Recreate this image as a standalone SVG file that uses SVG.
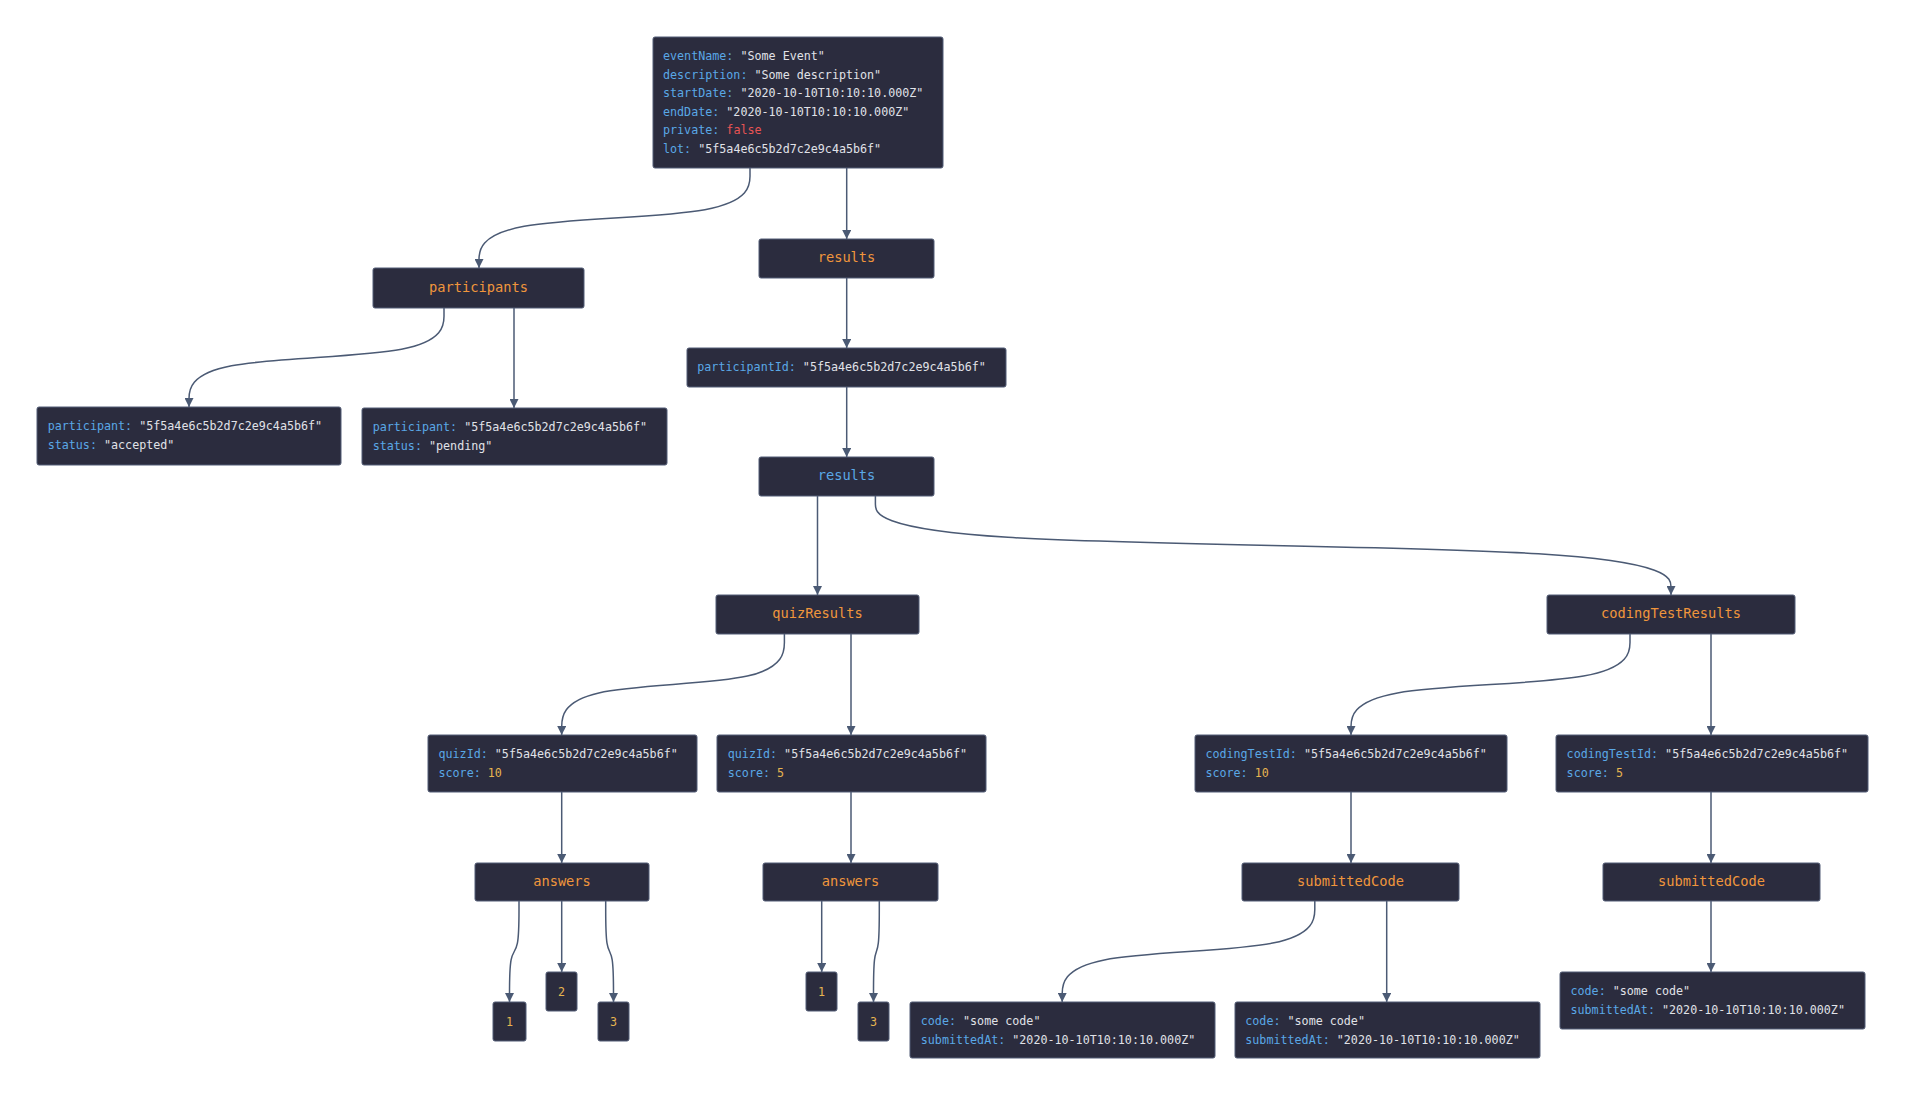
<svg xmlns="http://www.w3.org/2000/svg" width="1905" height="1096" viewBox="0 0 1905 1096">
<style>
.n{fill:#2b2c3e;stroke:#535d76;stroke-width:1}
.t{font-family:"DejaVu Sans Mono","Liberation Mono",monospace;font-size:11.7px;fill:#e0e2e8}
.h{font-family:"DejaVu Sans Mono","Liberation Mono",monospace;font-size:13.7px;fill:#f0963c;text-anchor:middle}
.hb{fill:#5aa8e6}
.k{fill:#5aa8e6}
.f{fill:#e85454}
.num{fill:#e6b450}
.c{text-anchor:middle}
.e{fill:none;stroke:#4b5a74;stroke-width:1.5}
</style>
<defs>
<marker id="arr" viewBox="0 0 10 10" refX="10" refY="5" markerUnits="userSpaceOnUse" markerWidth="11" markerHeight="9" orient="auto">
<path d="M0,0 L10,5 L0,10 z" fill="#4b5a74"/>
</marker>
</defs>
<rect width="1905" height="1096" fill="#ffffff"/>
<g id="edges">
<path class="e" marker-end="url(#arr)" d="M750,168 L750,176.3 C750,184.7 750,201.3 704.8,209.7 C659.7,218 569.3,218 524.2,226.3 C479,234.7 479,251.3 479,259.7 L479,268"/>
<path class="e" marker-end="url(#arr)" d="M846.7,168 V239"/>
<path class="e" marker-end="url(#arr)" d="M444,308 L444,316.3 C444,324.5 444,341 401.5,349.3 C359,357.5 274,357.5 231.5,365.8 C189,374 189,390.5 189,398.8 L189,407"/>
<path class="e" marker-end="url(#arr)" d="M514,308 V408"/>
<path class="e" marker-end="url(#arr)" d="M846.7,278 V348"/>
<path class="e" marker-end="url(#arr)" d="M846.7,387 V457"/>
<path class="e" marker-end="url(#arr)" d="M817.5,496 V595"/>
<path class="e" marker-end="url(#arr)" d="M875.4,496 L875.4,504.3 C875.4,512.5 875.4,529 1008,537.3 C1140.6,545.5 1405.8,545.5 1538.4,553.8 C1671,562 1671,578.5 1671,586.8 L1671,595"/>
<path class="e" marker-end="url(#arr)" d="M784.4,634 L784.4,642.4 C784.4,650.8 784.4,667.7 747.3,676.1 C710.2,684.5 635.9,684.5 598.8,692.9 C561.7,701.3 561.7,718.2 561.7,726.6 L561.7,735"/>
<path class="e" marker-end="url(#arr)" d="M851,634 V735"/>
<path class="e" marker-end="url(#arr)" d="M1630,634 L1630,642.4 C1630,650.8 1630,667.7 1583.5,676.1 C1537,684.5 1444,684.5 1397.5,692.9 C1351,701.3 1351,718.2 1351,726.6 L1351,735"/>
<path class="e" marker-end="url(#arr)" d="M1711,634 V735"/>
<path class="e" marker-end="url(#arr)" d="M561.7,792 V863"/>
<path class="e" marker-end="url(#arr)" d="M851,792 V863"/>
<path class="e" marker-end="url(#arr)" d="M1351,792 V863"/>
<path class="e" marker-end="url(#arr)" d="M1711,792 V863"/>
<path class="e" marker-end="url(#arr)" d="M519,901 L519,909.4 C519,917.8 519,934.7 517.4,943.1 C515.8,951.5 512.7,951.5 511.1,959.9 C509.5,968.3 509.5,985.2 509.5,993.6 L509.5,1002"/>
<path class="e" marker-end="url(#arr)" d="M561.7,901 V972"/>
<path class="e" marker-end="url(#arr)" d="M605.7,901 L605.7,909.4 C605.7,917.8 605.7,934.7 607,943.1 C608.3,951.5 610.9,951.5 612.2,959.9 C613.5,968.3 613.5,985.2 613.5,993.6 L613.5,1002"/>
<path class="e" marker-end="url(#arr)" d="M821.7,901 V972"/>
<path class="e" marker-end="url(#arr)" d="M879.3,901 L879.3,909.4 C879.3,917.8 879.3,934.7 878.3,943.1 C877.4,951.5 875.4,951.5 874.5,959.9 C873.5,968.3 873.5,985.2 873.5,993.6 L873.5,1002"/>
<path class="e" marker-end="url(#arr)" d="M1314.8,901 L1314.8,909.4 C1314.8,917.8 1314.8,934.7 1272.7,943.1 C1230.6,951.5 1146.4,951.5 1104.3,959.9 C1062.2,968.3 1062.2,985.2 1062.2,993.6 L1062.2,1002"/>
<path class="e" marker-end="url(#arr)" d="M1386.7,901 V1002"/>
<path class="e" marker-end="url(#arr)" d="M1711,901 V972"/>
</g>
<g id="root">
<rect class="n" x="653" y="37" width="290" height="131" rx="2"/>
<text class="t" x="663" y="60"><tspan class="k">eventName:</tspan> "Some Event"</text>
<text class="t" x="663" y="78.6"><tspan class="k">description:</tspan> "Some description"</text>
<text class="t" x="663" y="97.2"><tspan class="k">startDate:</tspan> "2020-10-10T10:10:10.000Z"</text>
<text class="t" x="663" y="115.8"><tspan class="k">endDate:</tspan> "2020-10-10T10:10:10.000Z"</text>
<text class="t" x="663" y="134.4"><tspan class="k">private:</tspan> <tspan class="f">false</tspan></text>
<text class="t" x="663" y="153"><tspan class="k">lot:</tspan> "5f5a4e6c5b2d7c2e9c4a5b6f"</text>
</g>
<g id="participants">
<rect class="n" x="373" y="268" width="211" height="40" rx="2"/>
<text class="h" x="478.5" y="291.5">participants</text>
</g>
<g id="participant-accepted">
<rect class="n" x="37" y="407" width="304" height="58" rx="2"/>
<text class="t" x="47.7" y="429.5"><tspan class="k">participant:</tspan> "5f5a4e6c5b2d7c2e9c4a5b6f"</text>
<text class="t" x="47.7" y="448.5"><tspan class="k">status:</tspan> "accepted"</text>
</g>
<g id="participant-pending">
<rect class="n" x="362" y="408" width="305" height="57" rx="2"/>
<text class="t" x="372.7" y="430.5"><tspan class="k">participant:</tspan> "5f5a4e6c5b2d7c2e9c4a5b6f"</text>
<text class="t" x="372.7" y="449.5"><tspan class="k">status:</tspan> "pending"</text>
</g>
<g id="results">
<rect class="n" x="759" y="239" width="175" height="39" rx="2"/>
<text class="h" x="846.5" y="262">results</text>
</g>
<g id="participantId">
<rect class="n" x="687" y="348" width="319" height="39" rx="2"/>
<text class="t" x="697.3" y="371"><tspan class="k">participantId:</tspan> "5f5a4e6c5b2d7c2e9c4a5b6f"</text>
</g>
<g id="results-2">
<rect class="n" x="759" y="457" width="175" height="39" rx="2"/>
<text class="h hb" x="846.5" y="480">results</text>
</g>
<g id="quizResults">
<rect class="n" x="716" y="595" width="203" height="39" rx="2"/>
<text class="h" x="817.5" y="618">quizResults</text>
</g>
<g id="codingTestResults">
<rect class="n" x="1547" y="595" width="248" height="39" rx="2"/>
<text class="h" x="1671" y="618">codingTestResults</text>
</g>
<g id="quiz-1">
<rect class="n" x="428" y="735" width="269" height="57" rx="2"/>
<text class="t" x="438.5" y="757.5"><tspan class="k">quizId:</tspan> "5f5a4e6c5b2d7c2e9c4a5b6f"</text>
<text class="t" x="438.5" y="776.5"><tspan class="k">score:</tspan> <tspan class="num">10</tspan></text>
</g>
<g id="quiz-2">
<rect class="n" x="717" y="735" width="269" height="57" rx="2"/>
<text class="t" x="727.8" y="757.5"><tspan class="k">quizId:</tspan> "5f5a4e6c5b2d7c2e9c4a5b6f"</text>
<text class="t" x="727.8" y="776.5"><tspan class="k">score:</tspan> <tspan class="num">5</tspan></text>
</g>
<g id="coding-1">
<rect class="n" x="1195" y="735" width="312" height="57" rx="2"/>
<text class="t" x="1205.4" y="757.5"><tspan class="k">codingTestId:</tspan> "5f5a4e6c5b2d7c2e9c4a5b6f"</text>
<text class="t" x="1205.4" y="776.5"><tspan class="k">score:</tspan> <tspan class="num">10</tspan></text>
</g>
<g id="coding-2">
<rect class="n" x="1556" y="735" width="312" height="57" rx="2"/>
<text class="t" x="1566.6" y="757.5"><tspan class="k">codingTestId:</tspan> "5f5a4e6c5b2d7c2e9c4a5b6f"</text>
<text class="t" x="1566.6" y="776.5"><tspan class="k">score:</tspan> <tspan class="num">5</tspan></text>
</g>
<g id="answers-1">
<rect class="n" x="475" y="863" width="174" height="38" rx="2"/>
<text class="h" x="562" y="885.5">answers</text>
</g>
<g id="answers-2">
<rect class="n" x="763" y="863" width="175" height="38" rx="2"/>
<text class="h" x="850.5" y="885.5">answers</text>
</g>
<g id="submittedCode-1">
<rect class="n" x="1242" y="863" width="217" height="38" rx="2"/>
<text class="h" x="1350.5" y="885.5">submittedCode</text>
</g>
<g id="submittedCode-2">
<rect class="n" x="1603" y="863" width="217" height="38" rx="2"/>
<text class="h" x="1711.5" y="885.5">submittedCode</text>
</g>
<g id="a1-1">
<rect class="n" x="493" y="1002" width="33" height="39" rx="2"/>
<text class="t c num" x="509.5" y="1025.5">1</text>
</g>
<g id="a1-2">
<rect class="n" x="546" y="972" width="31" height="39" rx="2"/>
<text class="t c num" x="561.5" y="995.5">2</text>
</g>
<g id="a1-3">
<rect class="n" x="598" y="1002" width="31" height="39" rx="2"/>
<text class="t c num" x="613.5" y="1025.5">3</text>
</g>
<g id="a2-1">
<rect class="n" x="806" y="972" width="31" height="39" rx="2"/>
<text class="t c num" x="821.5" y="995.5">1</text>
</g>
<g id="a2-3">
<rect class="n" x="858" y="1002" width="31" height="39" rx="2"/>
<text class="t c num" x="873.5" y="1025.5">3</text>
</g>
<g id="code-1">
<rect class="n" x="910" y="1002" width="305" height="56" rx="2"/>
<text class="t" x="920.8" y="1024.5"><tspan class="k">code:</tspan> "some code"</text>
<text class="t" x="920.8" y="1043.5"><tspan class="k">submittedAt:</tspan> "2020-10-10T10:10:10.000Z"</text>
</g>
<g id="code-2">
<rect class="n" x="1235" y="1002" width="305" height="56" rx="2"/>
<text class="t" x="1245.3" y="1024.5"><tspan class="k">code:</tspan> "some code"</text>
<text class="t" x="1245.3" y="1043.5"><tspan class="k">submittedAt:</tspan> "2020-10-10T10:10:10.000Z"</text>
</g>
<g id="code-3">
<rect class="n" x="1560" y="972" width="305" height="57" rx="2"/>
<text class="t" x="1570.5" y="994.5"><tspan class="k">code:</tspan> "some code"</text>
<text class="t" x="1570.5" y="1013.5"><tspan class="k">submittedAt:</tspan> "2020-10-10T10:10:10.000Z"</text>
</g>
</svg>
